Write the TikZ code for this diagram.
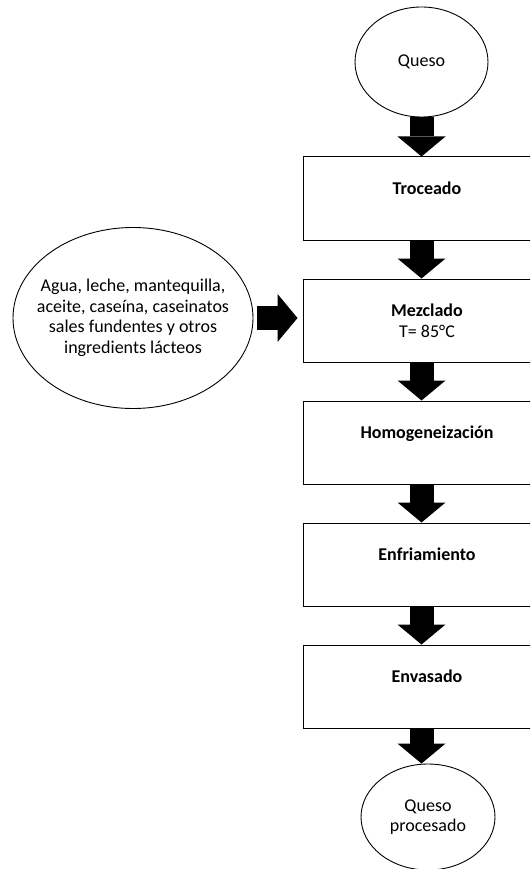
\documentclass[tikz,border=0pt]{standalone}
\usepackage{fontspec}
\setmainfont{Carlito}
\usetikzlibrary{positioning,arrows.meta,shapes.geometric}
\tikzset{
  stage/.style={draw,line width=1pt,minimum width=248pt,minimum height=83pt,inner sep=0pt,font=\bfseries},
  oneline/.style={text height=13pt,text depth=21pt},
  blob/.style={draw,ellipse,line width=0.9pt,inner ysep=0pt,align=center},
  fat/.style={line width=24pt,-{Triangle[width=48pt,length=20pt,line width=0pt]}}
}
\begin{document}
\fontsize{18}{20.5}\selectfont
\begin{tikzpicture}[x=1pt,y=-1pt]
    \useasboundingbox (0,0) rectangle (530,869);
    \clip (0,0) rectangle (530,869);
    % main line
    \node[blob,minimum width=133pt,minimum height=110pt] (queso) at (421.5,62) {Queso};
    \node[stage,oneline] (troceado) at (427,198.5) {Troceado};
    \node[stage,below=38pt of troceado,font=\mdseries,align=center] (mezclado) {\textbf{Mezclado}\\T= 85°C};
    \node[stage,oneline,below=38pt of mezclado] (homog) {Homogeneización};
    \node[stage,oneline,below=38pt of homog] (enfriam) {Enfriamiento};
    \node[stage,oneline,below=38pt of enfriam] (envasado) {Envasado};
    \node[blob,minimum width=134pt,minimum height=106pt] (procesado) at (428,817) {Queso\\procesado};
    % side input
    \node[blob,inner xsep=-20pt,minimum width=240pt,minimum height=181pt] (extra) at (133,318)
        {Agua, leche, mantequilla,\\aceite, caseína, caseinatos\\sales fundentes y otros\\ingredients lácteos};
    % arrows
    \draw[fat] (queso.south) -- (queso.south |- troceado.north);
    \foreach \a/\b in {troceado/mezclado,mezclado/homog,homog/enfriam,enfriam/envasado}{
        \draw[fat] (\a.south -| queso.south) -- (\b.north -| queso.south);
    }
    \draw[fat] (envasado.south -| queso.south) -- (procesado.north -| queso.south);
    \draw[fat,shorten <=4pt,shorten >=5pt] (extra.east) -- (extra.east -| mezclado.west);
\end{tikzpicture}
\end{document}
